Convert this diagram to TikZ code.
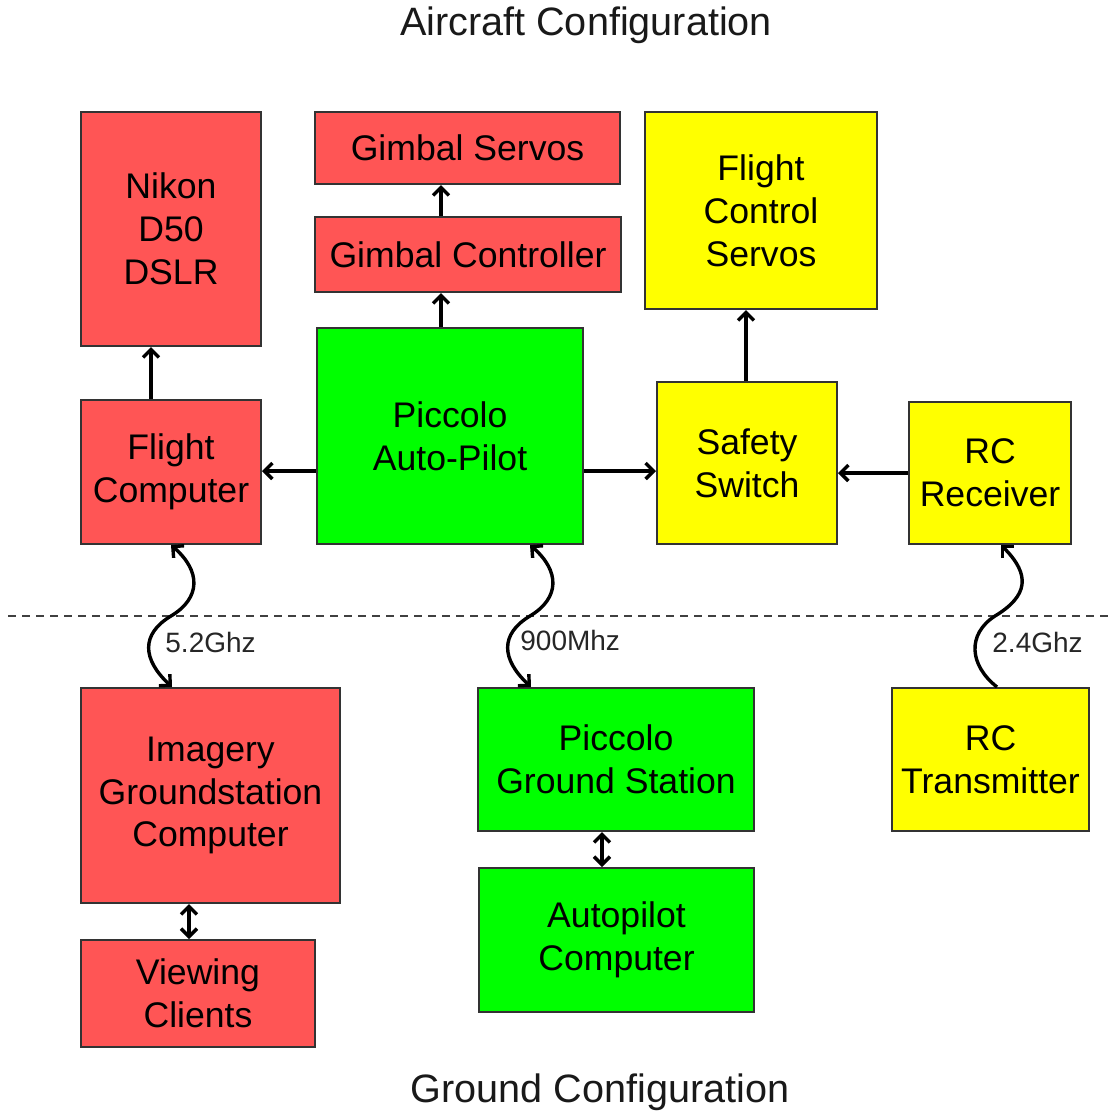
\documentclass[tikz,border=0pt]{standalone}
\usepackage{fontspec}
\setmainfont{Liberation Sans}
\usetikzlibrary{arrows.meta}
\definecolor{boxred}{HTML}{FF5555}
\definecolor{boxgreen}{HTML}{00FF00}
\definecolor{boxyellow}{HTML}{FFFF00}
\definecolor{edge}{HTML}{333333}
\tikzset{
  blk/.style={draw=edge, line width=1pt, align=center, inner sep=0pt,
    font=\fontsize{17.8}{21.4}\selectfont},
  rbox/.style={blk, fill=boxred},
  gbox/.style={blk, fill=boxgreen},
  ybox/.style={blk, fill=boxyellow},
  tip/.style={},
  conn/.style={line width=1.7pt, -{Straight Barb[length=4pt,width=8pt]}},
  bconn/.style={line width=1.7pt, {Straight Barb[length=4pt,width=8pt]}-{Straight Barb[length=4pt,width=8pt]}},
  lbl/.style={font=\fontsize{14}{16}\selectfont, text=black!85, anchor=west, inner sep=0pt},
  ttl/.style={font=\fontsize{19.8}{23}\selectfont, text=black!90, inner sep=0pt}
}
\begin{document}
\begin{tikzpicture}[x=0.5pt,y=-0.5pt]
\useasboundingbox (0,0) rectangle (1113,1115);
% titles
\node[ttl] (t1) at (586,25) {Aircraft Configuration};
\node[ttl] (t2) at (600,1092) {Ground Configuration};
% boxes
\node[rbox, minimum width=90pt, minimum height=117pt] (nik) at (171,229) {Nikon\\D50\\DSLR};
\node[rbox, minimum width=152.5pt, minimum height=36pt] (gs) at (467.5,148) {Gimbal Servos};
\node[rbox, minimum width=153pt, minimum height=37.5pt] (gc) at (468,254.5) {Gimbal Controller};
\node[ybox, minimum width=116pt, minimum height=98.5pt] (fcs) at (761,210.5) {Flight\\Control\\Servos};
\node[rbox, minimum width=90pt, minimum height=72pt] (fc) at (171,472) {Flight\\Computer};
\node[gbox, minimum width=133pt, minimum height=108pt] (pic) at (450,436) {Piccolo\\Auto-Pilot};
\node[ybox, minimum width=90pt, minimum height=81pt] (ss) at (747,463) {Safety\\Switch};
\node[ybox, minimum width=81pt, minimum height=71pt] (rcr) at (990,473) {RC\\Receiver};
\node[rbox, minimum width=129.5pt, minimum height=107.5pt] (img) at (210.5,795.5) {Imagery\\Groundstation\\Computer};
\node[rbox, minimum width=117pt, minimum height=53.5pt] (vc) at (198,993.5) {Viewing\\Clients};
\node[gbox, minimum width=138pt, minimum height=71.5pt] (pgs) at (616,759.5) {Piccolo\\Ground Station};
\node[gbox, minimum width=137.5pt, minimum height=72pt] (apc) at (616.5,940) {Autopilot\\Computer};
\node[ybox, minimum width=98.5pt, minimum height=71.5pt] (rct) at (990.5,759.5) {RC\\Transmitter};
% dashed separator
\coordinate (dl) at (8,616);
\coordinate (dr) at (1113,616);
\draw[dashed, dash pattern=on 4pt off 3pt, line width=0.7pt, draw=black!75] (dl) -- (dr);
% straight connectors
\draw[conn] (fc.north -| 151,0) -- (nik.south -| 151,0);
\draw[conn] (pic.north -| 441,0) -- (gc.south -| 441,0);
\draw[conn] (gc.north -| 441,0) -- (gs.south -| 441,0);
\draw[conn] (pic.west |- 0,471) -- (fc.east |- 0,471);
\draw[conn] (pic.east |- 0,471) -- (ss.west |- 0,471);
\draw[conn] (rcr.west |- 0,473) -- (ss.east |- 0,473);
\draw[conn] (ss.north -| 746,0) -- (fcs.south -| 746,0);
\draw[bconn] (img.south -| 189,0) -- (vc.north -| 189,0);
\draw[bconn] (pgs.south -| 602,0) -- (apc.north -| 602,0);
% wireless links
\coordinate (a1) at (fc.south);
\coordinate (m1) at (171,616);
\coordinate (b1) at (img.north -| 172,0);
\draw[bconn] (a1) .. controls +(30,26) and +(30,-18) .. (m1) .. controls +(-30,18) and +(-30,-28) .. (b1);
\node[lbl] (l1) at (165,642) {5.2Ghz};
\coordinate (a2) at (pic.south -| 530,0);
\coordinate (m2) at (530,616);
\coordinate (b2) at (pgs.north -| 531,0);
\draw[bconn] (a2) .. controls +(30,26) and +(30,-18) .. (m2) .. controls +(-30,18) and +(-30,-28) .. (b2);
\node[lbl] (l2) at (520,640) {900Mhz};
\coordinate (a3) at (rct.north -| 997,0);
\coordinate (m3) at (995,616);
\coordinate (b3) at (rcr.south -| 1001,0);
\draw[conn] (a3) .. controls +(-28,-22) and +(-28,18) .. (m3) .. controls +(33,-20) and +(30,30) .. (b3);
\node[lbl] (l3) at (992,642) {2.4Ghz};
\end{tikzpicture}
\end{document}
